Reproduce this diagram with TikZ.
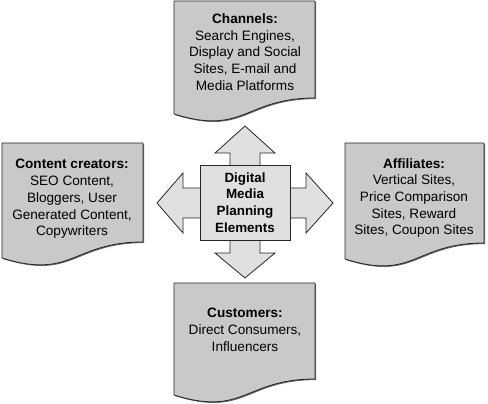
\documentclass[tikz,border=0pt]{standalone}
\usepackage{fontspec}
\setmainfont{Liberation Sans}
\begin{document}
\begin{tikzpicture}[x=1pt,y=-1pt,
  docfill/.style={fill=docgray,draw=black!85,line width=0.8pt,line join=round},
  docshade/.style={fill=black!60},
  arrowfill/.style={fill=lightgray2,draw=black!85,line width=0.8pt,line join=miter},
  doctext/.style={align=center,font=\fontsize{13.6}{16.7}\selectfont,inner sep=0pt},
  centertext/.style={align=center,font=\bfseries\fontsize{13.4}{16.6}\selectfont,inner sep=0pt}]
\definecolor{docgray}{RGB}{201,201,201}
\definecolor{lightgray2}{RGB}{224,224,224}
\useasboundingbox (0,0) rectangle (488,404);
\newcommand{\mydocshape}[4]{%
  \fill[docshade] (#1+1.1,#2+1.1) -- (#3+1.1,#2+1.1) -- (#3+1.1,#4-16+1.1)
    .. controls ({(#1+#3)/2+1.1},#4-16+1.1) and ({(#1+#3)/2+1.1},#4+22+1.1) .. (#1+1.1,#4+1.1) -- cycle;
  \draw[docfill] (#1,#2) -- (#3,#2) -- (#3,#4-16)
    .. controls ({(#1+#3)/2},#4-16) and ({(#1+#3)/2},#4+22) .. (#1,#4) -- cycle;}
% documents
\mydocshape{174}{1}{315}{114}
\mydocshape{2}{143}{143}{258}
\mydocshape{345}{143}{484}{259}
\mydocshape{174}{283}{315}{395}
% arrows
\draw[arrowfill] (230,165) -- (230,153) -- (215,153) -- (245,126) -- (275,153) -- (260,153) -- (260,165);
\draw[arrowfill] (230,240) -- (230,253) -- (215,253) -- (245,278) -- (275,253) -- (260,253) -- (260,240);
\draw[arrowfill] (200,188) -- (183,188) -- (183,173) -- (157,203) -- (183,233) -- (183,218) -- (200,218);
\draw[arrowfill] (290,188) -- (306,188) -- (306,173) -- (333,203) -- (306,233) -- (306,218) -- (290,218);
\draw[arrowfill] (200,165) rectangle (290,240);
% texts
\node[doctext] (channels) at (245,52) {\textbf{Channels:}\\Search Engines,\\Display and Social\\Sites, E-mail and\\Media Platforms};
\node[doctext] (creators) at (72,199) {\textbf{Content creators:}\\SEO Content,\\Bloggers, User\\Generated Content,\\Copywriters};
\node[doctext] (affiliates) at (414,198) {\textbf{Affiliates:}\\Vertical Sites,\\Price Comparison\\Sites, Reward\\Sites, Coupon Sites};
\node[doctext] (customers) at (245,330) {\textbf{Customers:}\\Direct Consumers,\\Influencers};
\node[centertext] (center) at (245,202.5) {Digital\\Media\\Planning\\Elements};
\end{tikzpicture}
\end{document}
